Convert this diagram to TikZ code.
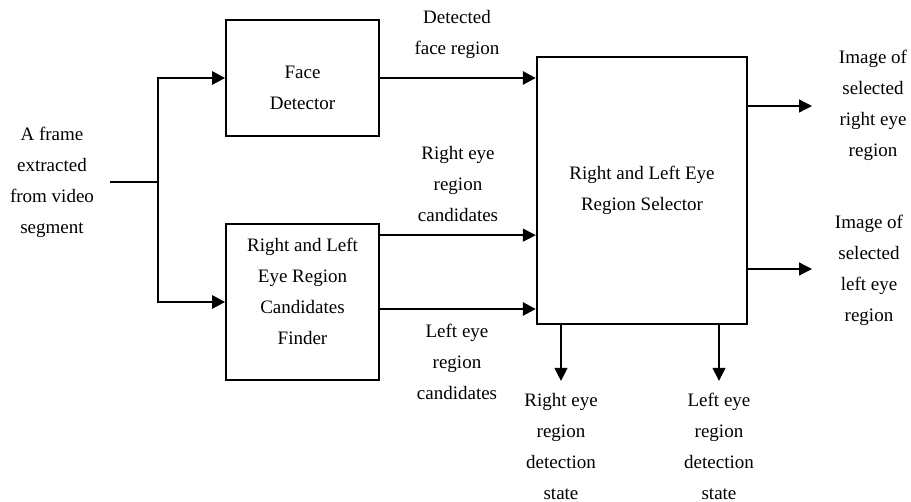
\documentclass[tikz,border=0pt]{standalone}
\usepackage{fontspec}
\setmainfont{Liberation Serif}
\usetikzlibrary{arrows.meta,positioning}
\newcommand{\diagfont}{\fontsize{9.5}{15.5}\selectfont}

\begin{document}
\begin{tikzpicture}[x=0.5pt,y=-0.5pt,on grid,
  >={Triangle[length=6.5pt,width=6.5pt]},
  block/.style={draw,line width=0.85pt,minimum width=76.5pt},
  txt/.style={align=center,font=\diagfont,inner sep=1pt},
  thickline/.style={line width=1.35pt},
  thinline/.style={line width=0.65pt}]
\useasboundingbox (0,0) rectangle (911,502);

\node[block,minimum height=58pt] (face) at (302.5,78) {};
\node[block,minimum height=78pt] (cand) [below=112pt of face] {};
\node[block,line width=1.15pt,minimum width=105pt,minimum height=133.5pt] (sel) at (642,190.5) {};

% texts in the boxes
\node[txt] (facetxt) [below=5pt of face] {Face\\Detector};
\node[txt] (candtxt) [above=5.5pt of cand] {Right and Left\\Eye Region\\Candidates\\Finder};
\node[txt] (seltxt) at (sel) {Right and Left Eye\\Region Selector};

% labels
\node[txt] (frame) at (52,182) {A frame\\extracted\\from video\\segment};
\node[txt] (facereg) at (457,34) {Detected\\face region};
\node[txt] (rcand) at (458,184) {Right eye\\region\\candidates};
\node[txt] (lcand) at (457,362) {Left eye\\region\\candidates};
\node[txt] (imgR) at (873,105.5) {Image of\\selected\\right eye\\region};
\node[txt] (imgL) at (869,270) {Image of\\selected\\left eye\\region};
\node[txt] (stateR) at (561,446.5) {Right eye\\region\\detection\\state};
\node[txt] (stateL) at (719,446.5) {Left eye\\region\\detection\\state};

\coordinate (src) at (110,182);
\coordinate (split) at (158,182);
\coordinate (rc) at ([yshift=-6pt]cand.north east);
\coordinate (lc) at ([yshift=-3.5pt]cand.east);
\coordinate (outR) at (812,106);
\coordinate (outL) at (812,269);

% input
\draw[thinline] (src) -- (split);
\draw[thickline,->] (split) |- (face.west);
\draw[thickline,->] (split) |- (cand.west);

\path[->]
(face.east) edge[thickline] (face.east -| sel.west)
(rc) edge[thinline] (rc -| sel.west)
(lc) edge[thickline] (lc -| sel.west)

% outputs
(sel.east |- outR) edge[thinline] (outR)
(sel.east |- outL) edge[thinline] (outL)
(sel.south -| stateR) edge[thinline,shorten >=5pt] (stateR.north)
(sel.south -| stateL) edge[thinline,shorten >=5pt] (stateL.north)
;
\end{tikzpicture}
\end{document}
